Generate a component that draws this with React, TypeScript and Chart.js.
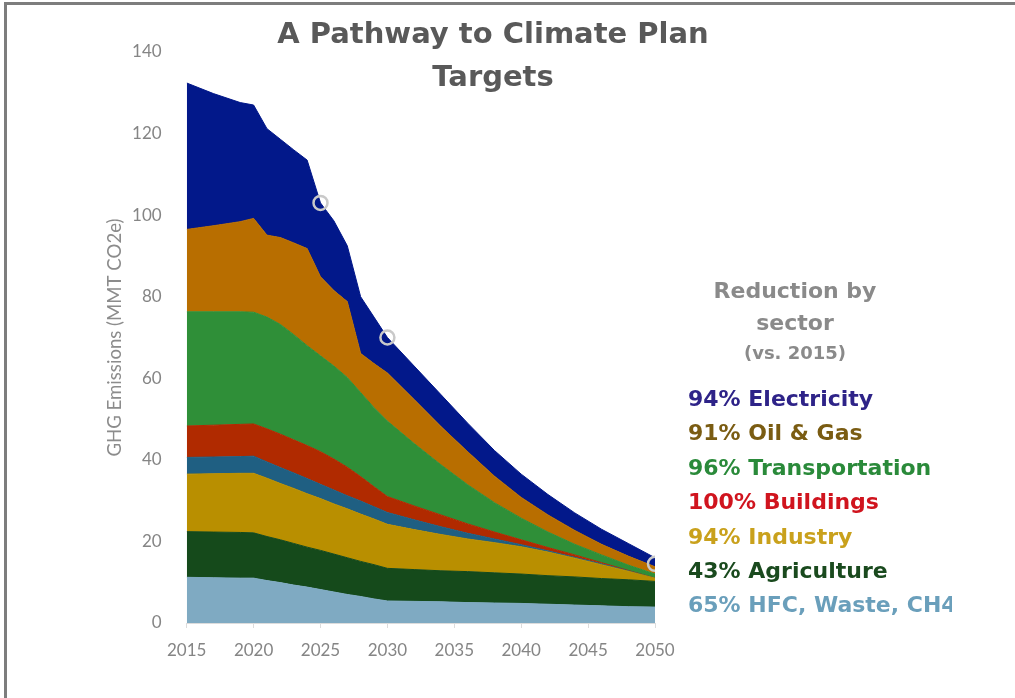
import React, { useEffect, useRef } from "react";
import { Chart, registerables } from "chart.js";

Chart.register(...registerables);

// ---- Data (MMT CO2e) ----
const YEARS = [2015, 2017, 2019, 2020, 2021, 2022, 2023, 2024, 2025, 2026, 2027, 2028, 2029, 2030, 2032, 2034, 2036, 2038, 2040, 2042, 2044, 2046, 2048, 2050];

const HFC_WASTE_CH4 = [11.2, 11.1, 11.0, 11.0, 10.4, 9.9, 9.3, 8.8, 8.2, 7.6, 7.0, 6.5, 5.9, 5.4, 5.3, 5.2, 5.0, 4.9, 4.8, 4.6, 4.4, 4.2, 4.0, 3.9];
const AGRICULTURE = [11.2, 11.2, 11.2, 11.1, 10.8, 10.5, 10.2, 9.8, 9.6, 9.3, 9.0, 8.6, 8.4, 8.0, 7.8, 7.6, 7.6, 7.4, 7.2, 7.0, 6.9, 6.7, 6.6, 6.3];
const INDUSTRY = [14.1, 14.3, 14.5, 14.6, 14.3, 13.8, 13.5, 13.1, 12.7, 12.3, 12.0, 11.6, 11.2, 10.8, 9.8, 8.9, 8.0, 7.4, 6.7, 5.8, 4.6, 3.4, 2.1, 0.8];
const OTHER = [4.1, 4.1, 4.1, 4.2, 4.0, 3.9, 3.8, 3.7, 3.5, 3.4, 3.2, 3.2, 3.0, 2.9, 2.4, 1.9, 1.4, 0.9, 0.5, 0.3, 0.2, 0.2, 0.1, 0.0];
const BUILDINGS = [7.7, 7.8, 7.9, 7.9, 8.1, 8.2, 8.1, 8.1, 8.0, 7.6, 7.0, 6.0, 4.9, 3.9, 3.4, 2.9, 2.3, 1.7, 1.2, 0.8, 0.6, 0.3, 0.1, 0.0];
const TRANSPORTATION = [28.0, 27.8, 27.6, 27.4, 27.4, 26.9, 25.8, 24.5, 23.5, 22.8, 22.0, 20.6, 19.4, 18.5, 15.3, 12.3, 9.6, 7.2, 5.3, 3.8, 2.6, 1.9, 1.3, 1.0];
const OIL_GAS = [20.2, 21.1, 22.1, 23.0, 20.1, 21.3, 22.5, 23.8, 19.4, 18.5, 18.6, 9.6, 10.8, 11.8, 10.8, 9.4, 8.1, 6.5, 5.1, 4.2, 3.4, 2.6, 2.2, 1.8];
const ELECTRICITY = [35.9, 32.4, 29.2, 27.8, 26.1, 24.1, 22.8, 21.7, 18.1, 17.1, 13.7, 13.9, 11.4, 8.7, 8.2, 7.8, 7.0, 6.3, 5.7, 5.0, 4.3, 3.7, 3.1, 2.2];

const TARGET_YEARS = [2025, 2030, 2050];
const TARGET_VALUES = [103, 70, 14.5];

const TITLE_LINES = ["A Pathway to Climate Plan", "Targets"];
const Y_TITLE = "GHG Emissions (MMT CO2e)";
const LEGEND_HEAD = ["Reduction by", "sector"];
const LEGEND_SUB = "(vs. 2015)";
const LEGEND_ITEMS = [
  "94% Electricity",
  "91% Oil & Gas",
  "96% Transportation",
  "100% Buildings",
  "94% Industry",
  "43% Agriculture",
  "65% HFC, Waste, CH4",
];
const LEGEND_COLORS = ["#2e2388", "#7a5c12", "#2a8a3a", "#d0141e", "#c9a11c", "#1a4a1e", "#6a9fbb"];

const SERIES = [
  { label: "HFC, Waste, CH4", values: HFC_WASTE_CH4, color: "#7faac2" },
  { label: "Agriculture", values: AGRICULTURE, color: "#154a1b" },
  { label: "Industry", values: INDUSTRY, color: "#b98f00" },
  { label: "Other", values: OTHER, color: "#1f5f82" },
  { label: "Buildings", values: BUILDINGS, color: "#b02a00" },
  { label: "Transportation", values: TRANSPORTATION, color: "#2f8f38" },
  { label: "Oil & Gas", values: OIL_GAS, color: "#b86e00" },
  { label: "Electricity", values: ELECTRICITY, color: "#02188a" },
];

export default function App() {
  const canvasRef = useRef<HTMLCanvasElement | null>(null);

  useEffect(() => {
    if (!canvasRef.current) return;
    const areaSets: any[] = SERIES.map((s, i) => ({
      type: "line",
      label: s.label,
      data: YEARS.map((x, j) => ({ x, y: s.values[j] })),
      backgroundColor: s.color,
      borderColor: s.color,
      borderWidth: 1,
      pointRadius: 0,
      tension: 0,
      fill: i === 0 ? "origin" : "-1",
      stack: "sectors",
      order: 1,
    }));
    const targetSet: any = {
      type: "line",
      label: "Targets",
      data: TARGET_YEARS.map((x, j) => ({ x, y: TARGET_VALUES[j] })),
      showLine: false,
      fill: false,
      pointRadius: 7,
      pointBorderWidth: 2.5,
      pointBorderColor: "#c9c9c9",
      pointBackgroundColor: "rgba(0,0,0,0)",
      stack: "targets",
      order: 0,
    };

    const chart = new Chart(canvasRef.current, {
      type: "line",
      data: { datasets: [...areaSets, targetSet] },
      options: {
        animation: false,
        responsive: false,
        layout: { padding: { left: 100, top: 52, right: 360, bottom: 25 } },
        plugins: { legend: { display: false }, tooltip: { enabled: false }, title: { display: false } },
        scales: {
          x: {
            type: "linear",
            min: 2015,
            max: 2050,
            afterFit: (scale: any) => {
              scale.height = 50;
            },
            ticks: {
              stepSize: 5,
              color: "#858585",
              padding: 12,
              font: { family: "Lato", size: 17 },
              callback: (v: any) => String(v),
            },
            grid: {
              display: true,
              drawOnChartArea: false,
              drawTicks: true,
              tickLength: 5,
              color: "#dcdcdc",
            },
            border: { display: true, color: "#dcdcdc", width: 1 },
          },
          y: {
            stacked: true,
            min: 0,
            max: 140,
            afterFit: (scale: any) => {
              scale.width = 86.7;
            },
            ticks: {
              stepSize: 20,
              color: "#858585",
              padding: 25,
              font: { family: "Lato", size: 17 },
            },
            grid: { display: false, drawTicks: false },
            border: { display: false },
            title: {
              display: true,
              text: Y_TITLE,
              color: "#8c8c8c",
              font: { family: "Lato", size: 18.6 },
              padding: { top: 4, bottom: 0 },
            },
          },
        },
      },
    });
    return () => chart.destroy();
  }, []);

  return (
    <div style={{ position: "absolute", left: 0, top: 0, width: 1015, height: 698, background: "#ffffff", overflow: "hidden" }}>
      <canvas ref={canvasRef} width={1015} height={698} style={{ position: "absolute", left: 0, top: 0 }} />
      <div
        style={{
          position: "absolute",
          left: 193,
          top: 12,
          width: 600,
          textAlign: "center",
          fontFamily: '"DejaVu Sans", sans-serif',
          fontWeight: 700,
          fontSize: 29,
          lineHeight: "43px",
          color: "#595959",
        }}
      >
        {TITLE_LINES.map((t) => (
          <div key={t}>{t}</div>
        ))}
      </div>
      <div
        style={{
          position: "absolute",
          left: 695,
          top: 275,
          width: 200,
          textAlign: "center",
          fontFamily: '"DejaVu Sans", sans-serif',
          fontWeight: 700,
          fontSize: 22,
          lineHeight: "31.7px",
          color: "#8a8a8a",
        }}
      >
        {LEGEND_HEAD.map((t) => (
          <div key={t}>{t}</div>
        ))}
        <div style={{ fontSize: 18, lineHeight: "21px", marginTop: 3.5 }}>{LEGEND_SUB}</div>
      </div>
      <div
        style={{
          position: "absolute",
          left: 688,
          top: 382,
          width: 264,
          overflow: "hidden",
          whiteSpace: "nowrap",
          fontFamily: '"DejaVu Sans", sans-serif',
          fontWeight: 700,
          fontSize: 22,
          lineHeight: "34.4px",
        }}
      >
        {LEGEND_ITEMS.map((t, i) => (
          <div key={t} style={{ color: LEGEND_COLORS[i] }}>
            {t}
          </div>
        ))}
      </div>
      <div
        style={{
          position: "absolute",
          left: 4,
          top: 2,
          width: 1015,
          height: 700,
          borderTop: "3px solid #7d7d7d",
          borderLeft: "3px solid #7d7d7d",
          pointerEvents: "none",
        }}
      />
    </div>
  );
}
